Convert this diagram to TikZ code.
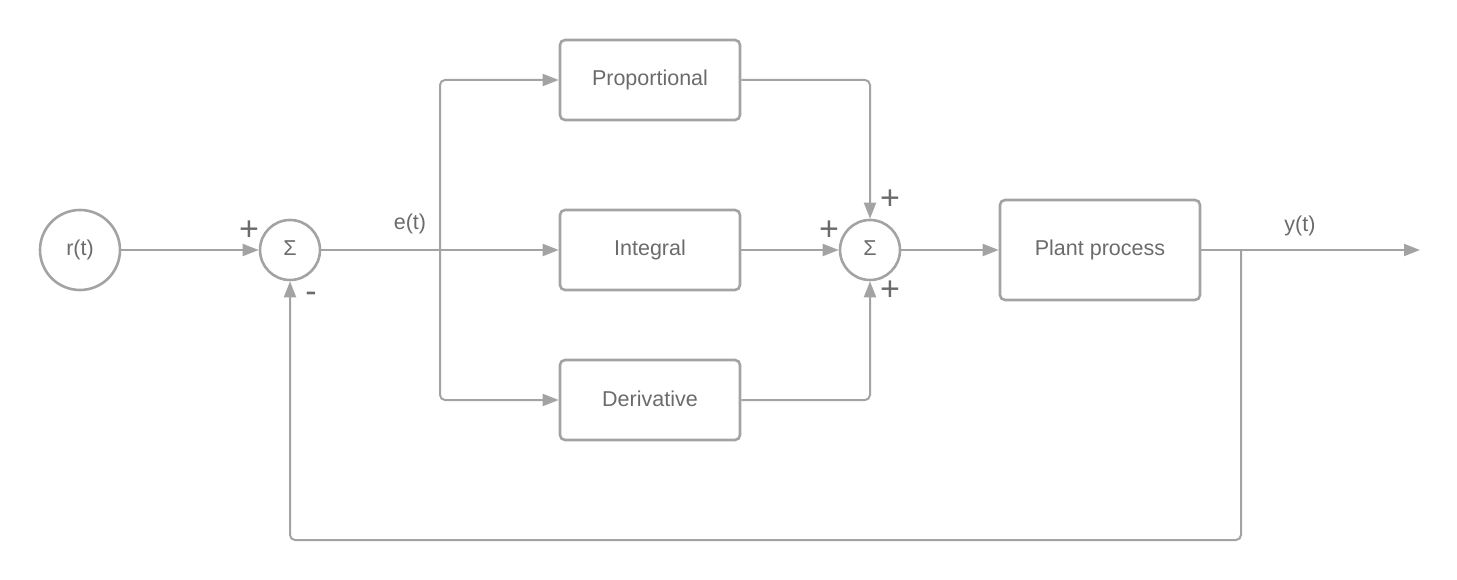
\documentclass[tikz,border=0pt]{standalone}
\usepackage{fontspec}
\setmainfont{Liberation Sans}
\usetikzlibrary{arrows.meta}
\definecolor{lc}{HTML}{A3A3A3}
\definecolor{tc}{HTML}{6B6B6B}
\begin{document}
\begin{tikzpicture}[x=1pt,y=-1pt,
  conn/.style={draw=lc,line width=2pt,-{Triangle[length=16pt,width=12pt]}},
  blk/.style={draw=lc,line width=2.6pt,rounded corners=5pt,minimum width=180pt,minimum height=80pt,inner sep=0pt,text=tc,font=\fontsize{21.5}{24}\selectfont},
  circ/.style={draw=lc,line width=2.6pt,circle,inner sep=0pt,text=tc,font=\fontsize{21.5}{24}\selectfont},
  lbl/.style={text=tc,font=\fontsize{21.5}{24}\selectfont,inner sep=0pt},
  sgn/.style={text=tc,font=\fontsize{34}{36}\selectfont,inner sep=0pt}]
\useasboundingbox (0,0) rectangle (1457,580);
\node[circ,minimum size=80pt] (r) at (80,250) {r(t)};
\node[circ,minimum size=60pt] (s1) at (290,250) {};
\node[lbl] (sig1) at (290,248) {Σ};
\node[blk] (prop) at (650,80) {\raisebox{2pt}{Proportional}};
\node[blk] (int) at (650,250) {\raisebox{2pt}{Integral}};
\node[blk] (der) at (650,400) {\raisebox{2pt}{Derivative}};
\node[circ,minimum size=60pt] (s2) at (870,250) {};
\node[lbl] (sig2) at (870,248) {Σ};
\node[blk,minimum width=200pt,minimum height=100pt] (plant) at (1100,250) {\raisebox{2pt}{Plant process}};
\coordinate (j) at (440,250);
\coordinate (fb) at (1241,250);
\coordinate (out) at (1420,250);
\node[lbl] (et) at (410,224) {e(t)};
\node[lbl] (yt) at (1300,226) {y(t)};
\node[sgn] (p1) at (249,231) {+};
\node[sgn] (m1) at (311,297) {-};
\node[sgn] (p2) at (890,200) {+};
\node[sgn] (p3) at (829,231) {+};
\node[sgn] (p4) at (890,291) {+};
\draw[conn] (r) -- (s1);
\draw[conn] (s1) -- (int);
\draw[conn,rounded corners=5pt] (j) |- (prop.west);
\draw[conn,rounded corners=5pt] (j) |- (der.west);
\draw[conn,rounded corners=5pt] (prop.east) -| (s2.north);
\draw[conn] (int) -- (s2);
\draw[conn,rounded corners=5pt] (der.east) -| (s2.south);
\draw[conn] (s2) -- (plant);
\draw[conn] (plant) -- (out);
\draw[conn,rounded corners=5pt] (fb) -- (1241,540) -| (s1.south);
\end{tikzpicture}
\end{document}
